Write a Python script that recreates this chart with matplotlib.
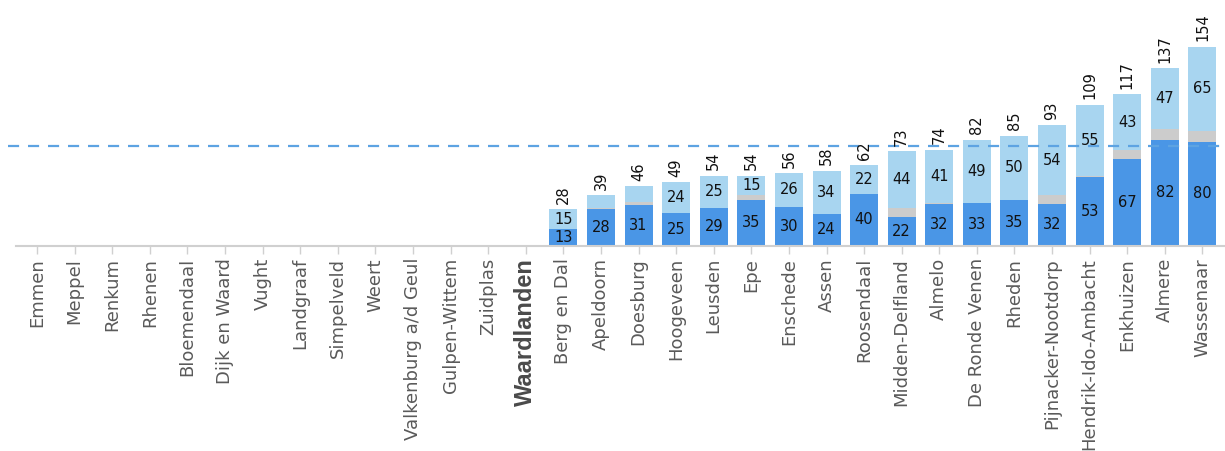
import numpy as np
import matplotlib
matplotlib.use("Agg")
import matplotlib.pyplot as plt

categories = ["Emmen", "Meppel", "Renkum", "Rhenen", "Bloemendaal", "Dijk en Waard",
              "Vught", "Landgraaf", "Simpelveld", "Weert", "Valkenburg a/d Geul",
              "Gulpen-Wittem", "Zuidplas", "Waardlanden", "Berg en Dal", "Apeldoorn",
              "Doesburg", "Hoogeveen", "Leusden", "Epe", "Enschede", "Assen",
              "Roosendaal", "Midden-Delfland", "Almelo", "De Ronde Venen", "Rheden",
              "Pijnacker-Nootdorp", "Hendrik-Ido-Ambacht", "Enkhuizen", "Almere",
              "Wassenaar"]

empty = [None] * 14
dark_values = empty + [13, 28, 31, 25, 29, 35, 30, 24, 40, 22, 32, 33, 35, 32, 53, 67, 82, 80]
grey_values = empty + [0, 1, 3, 0, 0, 4, 0, 0, 0, 7, 1, 0, 0, 7, 1, 7, 8, 9]
light_values = empty + [15, 10, 12, 24, 25, 15, 26, 34, 22, 44, 41, 49, 50, 54, 55, 43, 47, 65]
totals = empty + [28, 39, 46, 49, 54, 54, 56, 58, 62, 73, 74, 82, 85, 93, 109, 117, 137, 154]
reference_value = 77
highlight = "Waardlanden"

DARK = "#4a96e6"
GREY = "#cccccc"
LIGHT = "#a8d5f0"
LINE = "#5da3e2"

W, H = 1225, 451
fig = plt.figure(figsize=(W / 100, H / 100), dpi=100)
ax_left_px, ax_bottom_px = 8, 245.5
ax = fig.add_axes([ax_left_px / W, (H - ax_bottom_px) / H, (W - ax_left_px) / W, ax_bottom_px / H])

x = np.arange(len(categories))
def arr(v):
    return np.array([np.nan if a is None else a for a in v], dtype=float)
d = arr(dark_values); g = arr(grey_values); l = arr(light_values); t = arr(totals)

bw = 0.745
ax.bar(x, d, width=bw, color=DARK, zorder=2)
ax.bar(x, g, width=bw, bottom=d, color=GREY, zorder=2)
ax.bar(x, l, width=bw, bottom=d + g, color=LIGHT, zorder=2)

ax.axhline(reference_value, color=LINE, lw=1.6, dashes=(5, 4), zorder=3)

fs = 10.5
for i in range(len(categories)):
    if np.isnan(t[i]):
        continue
    ax.text(x[i], d[i] / 2, f"{int(d[i])}", ha="center", va="center", fontsize=fs, color="#111111", zorder=4)
    if l[i] >= 13:
        ax.text(x[i], d[i] + g[i] + l[i] / 2, f"{int(l[i])}", ha="center", va="center",
                fontsize=fs, color="#111111", zorder=4)
    ax.annotate(f"{int(t[i])}", (x[i], t[i]), xytext=(0, 4), textcoords="offset points",
                rotation=90, ha="center", va="bottom", fontsize=fs, color="#111111")

ax.set_ylim(0, 190)
left_lim = -0.56 - (16 - ax_left_px) / 37.6
ax.set_xlim(left_lim, 31.6)

for s in ["top", "right", "left", "bottom"]:
    ax.spines[s].set_visible(False)
ax.plot([-0.56, 31.6], [0, 0], color="#d0d0d0", lw=1.5, clip_on=False, zorder=5)

ax.set_yticks([])
ax.set_xticks(x)
ax.set_xticklabels(categories, rotation=90, fontsize=13, color="#5a5a5a", family="DejaVu Sans")
ax.tick_params(axis="x", length=6, width=1, color="#d0d0d0", pad=3)
for lab in ax.get_xticklabels():
    if lab.get_text() == highlight:
        lab.set_fontfamily("Liberation Sans")
        lab.set_fontweight("bold")
        lab.set_fontsize(17)
        lab.set_color("#4a4a4a")

fig.savefig("out.png", dpi=100)
